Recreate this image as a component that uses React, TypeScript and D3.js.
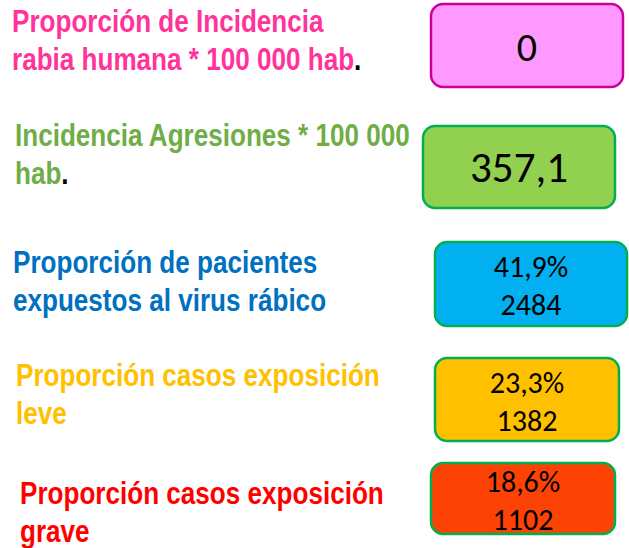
import * as d3 from "d3";
import { useEffect, useRef } from "react";

// indicator texts and values
const labels = [
  ["Proporción de Incidencia", "rabia humana * 100 000 hab"],
  ["Incidencia Agresiones * 100 000", "hab"],
  ["Proporción de pacientes", "expuestos al virus rábico"],
  ["Proporción casos exposición", "leve"],
  ["Proporción casos exposición", "grave"],
];
const blackDot = [true, true, false, false, false];
const percents = ["", "", "41,9%", "23,3%", "18,6%"];
const values = ["0", "357,1", "2484", "1382", "1102"];

// colours
const labelColors = ["#ff3399", "#70ad47", "#0070c0", "#ffc000", "#ff0000"];
const boxFills = ["#ff99ff", "#92d050", "#00b0f0", "#ffc000", "#fc4305"];
const boxStrokes = ["#cc0099", "#00b050", "#00b050", "#00b050", "#00b050"];

// layout
const boxTop = [4, 126, 242, 358, 463];
const boxLeft = [431, 423, 435, 435, 431];
const boxW = [192, 192, 192, 184, 184];
const boxH = [83, 82, 84, 83, 71];
const labelX = [12, 15, 13, 16, 20];
const labelBase = [32, 146, 273, 386, 504];
const narrow = 0.815; // Arial Narrow look from Liberation Sans

const App = () => {
  const ref = useRef<SVGSVGElement>(null);
  const W = 629, H = 548;

  useEffect(() => {
    const svg = d3.select(ref.current);
    svg.selectAll("*").remove();
    const idx = d3.range(labels.length);

    const row = svg.selectAll("g.row").data(idx).join("g").attr("class", "row");

    // label, two lines
    const lbl = row.append("text")
      .attr("transform", (i) => `translate(${labelX[i]},0) scale(${narrow},1)`)
      .attr("font-family", "'Liberation Sans', Arial, sans-serif")
      .attr("font-weight", "bold")
      .attr("font-size", "32px")
      .attr("fill", (i) => labelColors[i]);
    lbl.each(function (i) {
      const t = d3.select(this);
      labels[i].forEach((line, k) => {
        t.append("tspan")
          .attr("x", 0)
          .attr("y", labelBase[i] + k * 38)
          .text(line);
        if (k === labels[i].length - 1 && blackDot[i]) {
          t.append("tspan").attr("fill", "#000").text(".");
        }
      });
    });

    // value boxes
    row.append("rect")
      .attr("x", (i) => boxLeft[i])
      .attr("y", (i) => boxTop[i])
      .attr("width", (i) => boxW[i])
      .attr("height", (i) => boxH[i])
      .attr("rx", 12)
      .attr("fill", (i) => boxFills[i])
      .attr("stroke", (i) => boxStrokes[i])
      .attr("stroke-width", 2.5);

    const val = row.append("text")
      .attr("font-family", "Carlito, Lato, 'Open Sans', sans-serif")
      .attr("text-anchor", "middle")
      .attr("fill", "#000");
    val.each(function (i) {
      const t = d3.select(this);
      const cx = boxLeft[i] + boxW[i] / 2;
      const cy = boxTop[i] + boxH[i] / 2;
      if (percents[i]) {
        t.append("tspan").attr("x", cx).attr("y", cy - 7).attr("font-size", "30px").text(percents[i]);
        t.append("tspan").attr("x", cx).attr("y", cy + 31).attr("font-size", "30px").text(values[i]);
      } else {
        t.append("tspan").attr("x", cx).attr("y", cy + 15).attr("font-size", i === 0 ? "40px" : "43px").text(values[i]);
      }
    });
  }, []);

  return (
    <svg ref={ref} width={W} height={H}
      style={{ position: "absolute", left: 0, top: 0, background: "#fff" }} />
  );
};

export default App;
